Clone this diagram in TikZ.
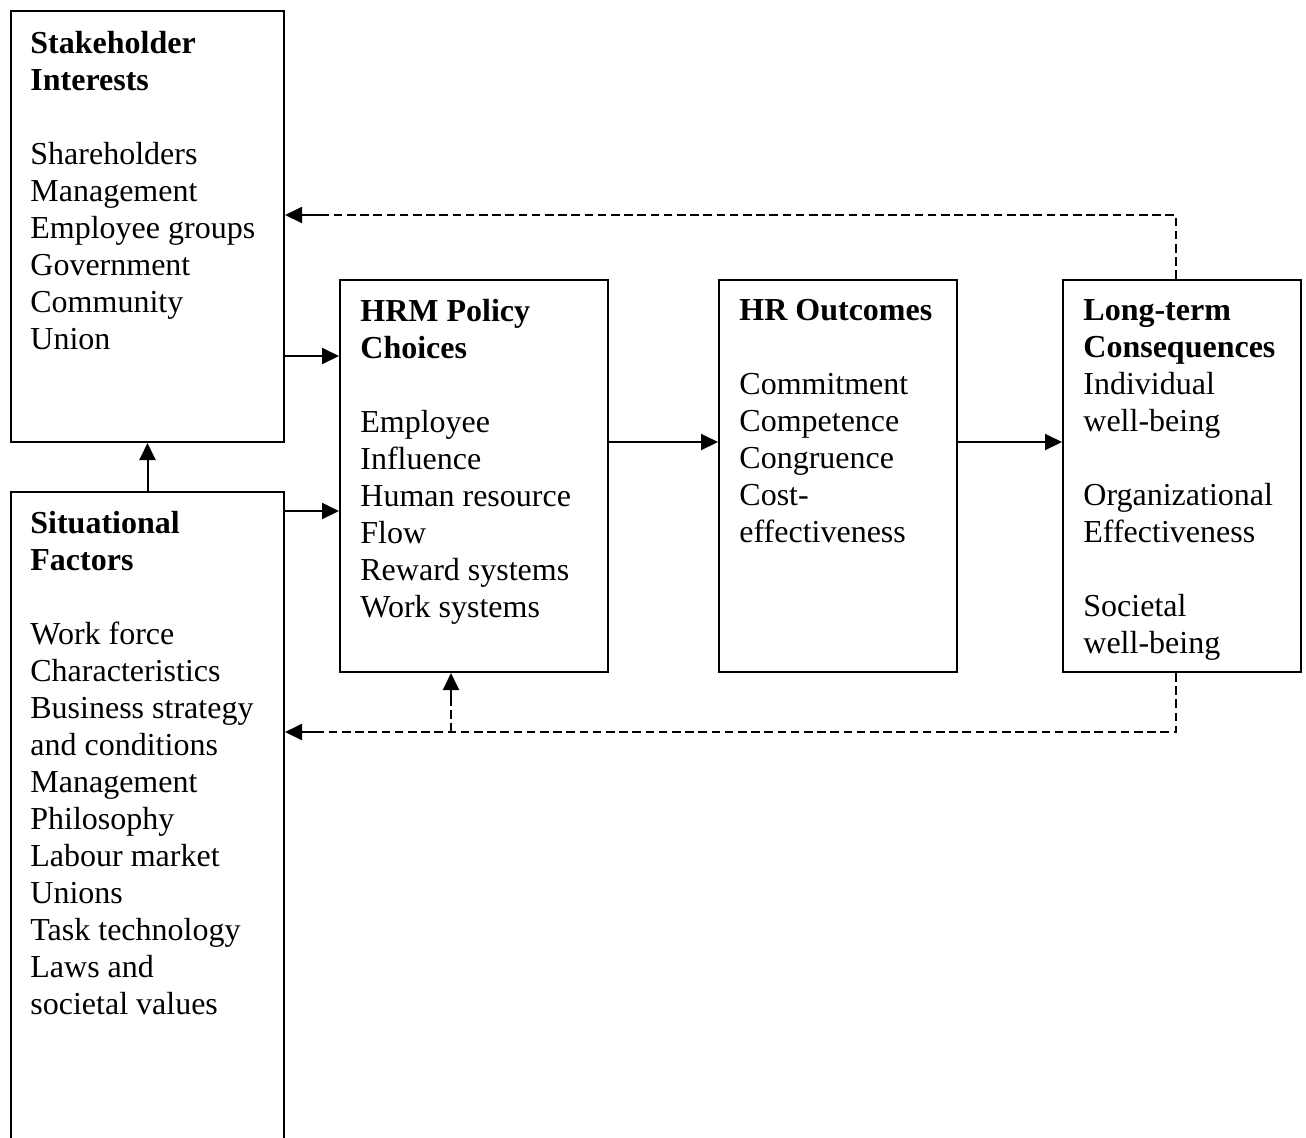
\documentclass[tikz,border=0pt]{standalone}
\usepackage{fontspec}
\setmainfont{Liberation Serif}
\usepackage{tikz}
\usetikzlibrary{arrows.meta,shapes,backgrounds,calc}

\begin{document}
\begin{tikzpicture}[x=0.5pt,y=-0.5pt,
    box/.style={draw,line width=1pt,inner sep=0pt,anchor=north west},
    txt/.style={anchor=north west,inner sep=0pt,align=left,
      font=\fontsize{16}{18.5}\selectfont},
    link/.style={line width=1pt,-{Triangle[length=8.5pt,width=8pt]}},
    back/.style={line width=1pt,dash pattern=on 4.3pt off 2.3pt}]
      \useasboundingbox (0,0) rectangle (1306,1137);
      \clip (0,0) rectangle (1306,1137);
      \def\gap{18.5pt}
      \def\showBoxes{
        \node [box, minimum width=273*0.5pt, minimum height=431*0.5pt] (stake) at (10,10) {};
        \node [box, minimum width=273*0.5pt, minimum height=720*0.5pt] (sit) at (10,491) {};
        \node [box, minimum width=268*0.5pt, minimum height=392*0.5pt] (hrm) at (339,279) {};
        \node [box, minimum width=238*0.5pt, minimum height=392*0.5pt] (out) at (718,279) {};
        \node [box, minimum width=238*0.5pt, minimum height=392*0.5pt] (cons) at (1062,279) {};
      }
      \def\showTexts{
        \node [txt] (stakeT) at ([shift={(20,21)}]stake.north west)
          {\textbf{Stakeholder}\\\textbf{Interests}\\[\gap]
           Shareholders\\Management\\Employee groups\\Government\\Community\\Union};
        \node [txt] (sitT) at ([shift={(20,20)}]sit.north west)
          {\textbf{Situational}\\\textbf{Factors}\\[\gap]
           Work force\\Characteristics\\Business strategy\\and conditions\\Management\\
           Philosophy\\Labour market\\Unions\\Task technology\\Laws and\\societal values};
        \node [txt] (hrmT) at ([shift={(21,20)}]hrm.north west)
          {\textbf{HRM Policy}\\\textbf{Choices}\\[\gap]
           Employee\\Influence\\Human resource\\Flow\\Reward systems\\Work systems};
        \node [txt] (outT) at ([shift={(21,20)}]out.north west)
          {\textbf{HR Outcomes}\\[\gap]
           Commitment\\Competence\\Congruence\\Cost-\\effectiveness};
        \node [txt] (consT) at ([shift={(21,20)}]cons.north west)
          {\textbf{Long-term}\\\textbf{Consequences}\\
           Individual\\well-being\\[\gap]Organizational\\Effectiveness\\[\gap]
           Societal\\well-being};
      }
      \def\showLinks{
        % Draw forward arrows
        \draw [link] (stake.east |- 0,356) -- (hrm.west |- 0,356);
        \draw [link] (sit.east |- 0,511) -- (hrm.west |- 0,511);
        \draw [link] (sit.north) -- (stake.south);
        \draw [link] (hrm.east |- 0,442) -- (out.west |- 0,442);
        \draw [link] (out.east |- 0,442) -- (cons.west |- 0,442);
        % Draw feedback loops
        \coordinate (fbTop) at (1176,215);
        \coordinate (fbTopEnd) at (322,215);
        \coordinate (fbBot) at (1176,732);
        \coordinate (fbBotEnd) at (322,732);
        \coordinate (fbUp) at (451,732);
        \coordinate (fbUpEnd) at (451,700);
        \draw [back] (cons.north -| fbTop) -- (fbTop) -- (fbTopEnd);
        \draw [link] (fbTopEnd) -- (stake.east |- fbTopEnd);
        \draw [back] (cons.south -| fbBot) -- (fbBot) -- (fbBotEnd);
        \draw [link] (fbBotEnd) -- (sit.east |- fbBotEnd);
        \draw [back] (fbUp) -- (fbUpEnd);
        \draw [link] (fbUpEnd) -- (hrm.south -| fbUp);
      }
      \showBoxes
      \showTexts
      \showLinks
    \end{tikzpicture}
\end{document}
